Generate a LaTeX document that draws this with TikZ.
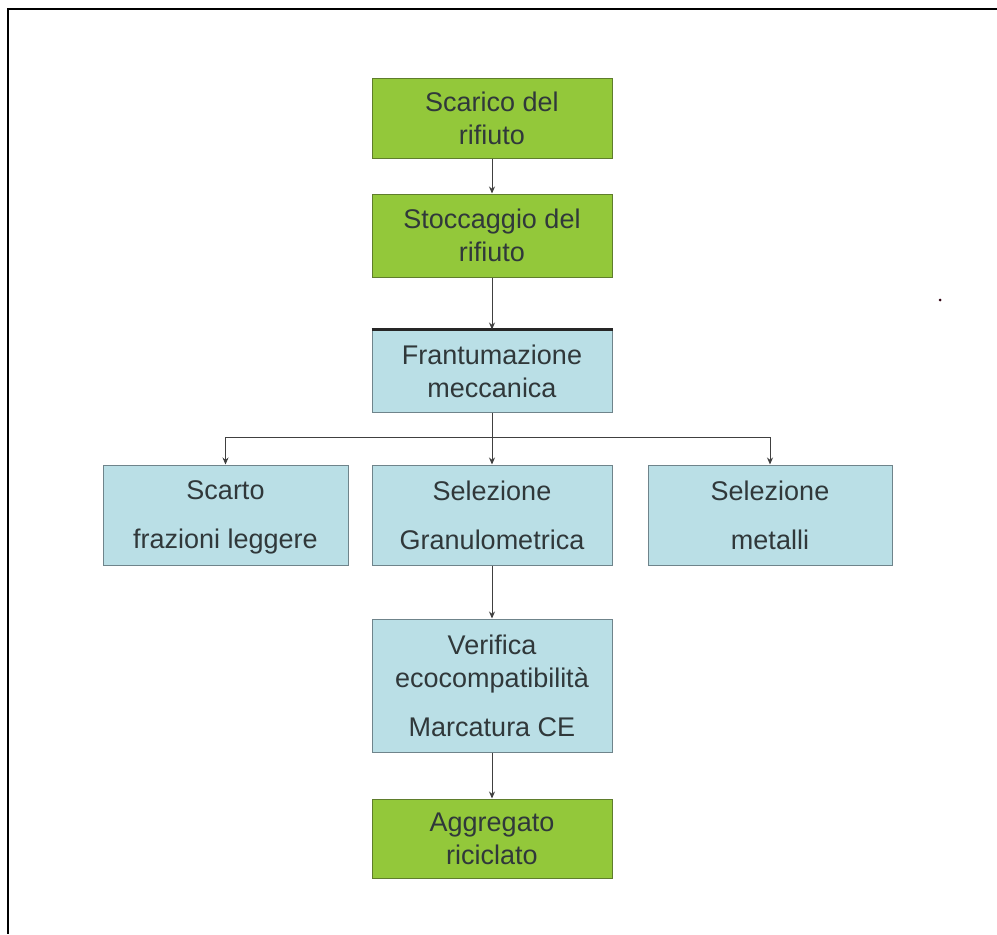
\documentclass[tikz,border=0pt]{standalone}
\usepackage{fontspec}
\setmainfont{Liberation Sans}
\usetikzlibrary{arrows.meta}
\definecolor{boxgreen}{HTML}{93C83A}
\definecolor{boxblue}{HTML}{BADFE6}
\definecolor{greenedge}{HTML}{5F7D2C}
\definecolor{blueedge}{HTML}{6F848B}
\definecolor{txt}{HTML}{30383A}
\definecolor{linec}{HTML}{404040}
\tikzset{
  base/.style={draw, line width=1pt, text=txt, align=center,
    font=\fontsize{27}{33}\selectfont, inner sep=0pt},
  greenbox/.style={base, fill=boxgreen, draw=greenedge},
  bluebox/.style={base, fill=boxblue, draw=blueedge},
  conn/.style={draw=linec, line width=1pt, -{Stealth[length=7pt,width=6pt]}},
  frame/.style={draw=black, line width=1.6pt}
}
\begin{document}
\begin{tikzpicture}[x=1pt,y=-1pt]
\useasboundingbox (0,0) rectangle (997,935);
\draw[frame] (997,9) -- (8,9) -- (8,934);
\fill[black!75!purple] (940,300) circle (1.5);

\node[greenbox, minimum width=240pt, minimum height=80pt] (s1) at (492,118) {Scarico del\\rifiuto};
\node[greenbox, minimum width=240pt, minimum height=83pt] (s2) at (492,235.5) {Stoccaggio del\\rifiuto};
\node[bluebox, minimum width=240pt, minimum height=82pt] (fr) at (492,371) {Frantumazione\\meccanica};
\draw[line width=3pt, draw=black!85] (fr.north west) -- (fr.north east);
\node[bluebox, minimum width=245pt, minimum height=100pt] (sc) at (225.5,515) {Scarto\\[16pt]\raisebox{0pt}[\height][0pt]{frazioni leggere}};
\node[bluebox, minimum width=240pt, minimum height=100pt] (sg) at (492,515) {Selezione\\[16pt]Granulometrica};
\node[bluebox, minimum width=244pt, minimum height=100pt] (sm) at (770,515) {Selezione\\[16pt]metalli};
\node[bluebox, minimum width=240pt, minimum height=133pt] (ve) at (492,685.5) {Verifica\\ecocompatibilità\\[16pt]Marcatura CE};
\node[greenbox, minimum width=240pt, minimum height=79pt] (ag) at (492,838.5) {Aggregato\\riciclato};

\coordinate (br) at (492,437);
\draw[conn] (s1.south) -- (s2.north);
\draw[conn] (s2.south) -- (fr.north);
\draw[conn] (fr.south) -- (sg.north);
\draw[conn] (br) -| (sc.north);
\draw[conn] (br) -| (sm.north);
\draw[conn] (sg.south) -- (ve.north);
\draw[conn] (ve.south) -- (ag.north);
\end{tikzpicture}
\end{document}
